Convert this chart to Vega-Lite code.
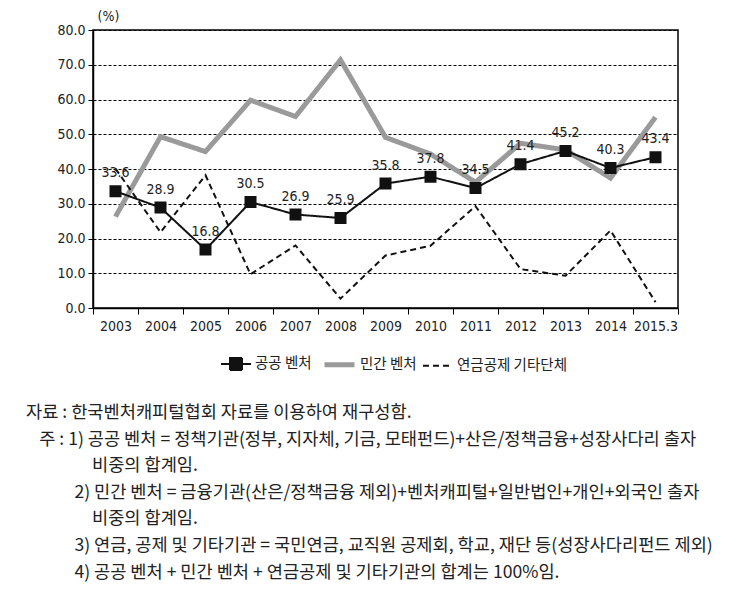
{
  "$schema": "https://vega.github.io/schema/vega-lite/v6.json",
  "width": 585,
  "height": 278,
  "autosize": "none",
  "padding": {"left": 93, "top": 30, "right": 62, "bottom": 308},
  "background": "white",
  "config": {
    "view": {"stroke": "black", "strokeWidth": 1.5},
    "font": "Liberation Sans Narrow, DejaVu Sans Condensed, sans-serif",
    "legend": {
      "title": null,
      "orient": "none",
      "direction": "horizontal",
      "legendX": 127,
      "legendY": 317,
      "labelFont": "Noto Sans CJK KR",
      "labelFontSize": 14.5,
      "labelColor": "#222",
      "symbolSize": 900,
      "labelOffset": 3,
      "columnPadding": 2
    }
  },
  "title": {
    "text": [
      "\u200b자료 : 한국벤처캐피털협회 자료를 이용하여 재구성함.",
      "\u200b\u2002\u2005주 : 1) 공공 벤처 = 정책기관(정부, 지자체, 기금, 모태펀드)+산은/정책금융+성장사다리 출자",
      "\u200b\u3000\u3000\u3000\u2002\u2005비중의 합계임.",
      "\u200b\u3000\u3000\u2002\u20052) 민간 벤처 = 금융기관(산은/정책금융 제외)+벤처캐피털+일반법인+개인+외국인 출자",
      "\u200b\u3000\u3000\u3000\u2002\u2005비중의 합계임.",
      "\u200b\u3000\u3000\u2002\u20053) 연금, 공제 및 기타기관 = 국민연금, 교직원 공제회, 학교, 재단 등(성장사다리펀드 제외)",
      "\u200b\u3000\u3000\u2002\u20054) 공공 벤처 + 민간 벤처 + 연금공제 및 기타기관의 합계는 100%임."
    ],
    "orient": "bottom",
    "anchor": "start",
    "frame": "group",
    "dx": -67,
    "offset": 29,
    "font": "Noto Sans CJK KR",
    "fontSize": 17.6,
    "fontWeight": "normal",
    "color": "#222",
    "lineHeight": 26.6
  },
  "data": {
    "values": [
      {"year": "2003", "series": "공공 벤처", "value": 33.6},
      {"year": "2004", "series": "공공 벤처", "value": 28.9},
      {"year": "2005", "series": "공공 벤처", "value": 16.8},
      {"year": "2006", "series": "공공 벤처", "value": 30.5},
      {"year": "2007", "series": "공공 벤처", "value": 26.9},
      {"year": "2008", "series": "공공 벤처", "value": 25.9},
      {"year": "2009", "series": "공공 벤처", "value": 35.8},
      {"year": "2010", "series": "공공 벤처", "value": 37.8},
      {"year": "2011", "series": "공공 벤처", "value": 34.5},
      {"year": "2012", "series": "공공 벤처", "value": 41.4},
      {"year": "2013", "series": "공공 벤처", "value": 45.2},
      {"year": "2014", "series": "공공 벤처", "value": 40.3},
      {"year": "2015.3", "series": "공공 벤처", "value": 43.4},
      {"year": "2003", "series": "민간 벤처", "value": 26.3},
      {"year": "2004", "series": "민간 벤처", "value": 49.3},
      {"year": "2005", "series": "민간 벤처", "value": 45.0},
      {"year": "2006", "series": "민간 벤처", "value": 59.8},
      {"year": "2007", "series": "민간 벤처", "value": 55.1},
      {"year": "2008", "series": "민간 벤처", "value": 71.4},
      {"year": "2009", "series": "민간 벤처", "value": 49.1},
      {"year": "2010", "series": "민간 벤처", "value": 44.3},
      {"year": "2011", "series": "민간 벤처", "value": 36.2},
      {"year": "2012", "series": "민간 벤처", "value": 47.4},
      {"year": "2013", "series": "민간 벤처", "value": 45.5},
      {"year": "2014", "series": "민간 벤처", "value": 37.4},
      {"year": "2015.3", "series": "민간 벤처", "value": 54.9},
      {"year": "2003", "series": "연금공제 기타단체", "value": 40.1},
      {"year": "2004", "series": "연금공제 기타단체", "value": 21.8},
      {"year": "2005", "series": "연금공제 기타단체", "value": 38.2},
      {"year": "2006", "series": "연금공제 기타단체", "value": 9.7},
      {"year": "2007", "series": "연금공제 기타단체", "value": 18.0},
      {"year": "2008", "series": "연금공제 기타단체", "value": 2.7},
      {"year": "2009", "series": "연금공제 기타단체", "value": 15.1},
      {"year": "2010", "series": "연금공제 기타단체", "value": 17.9},
      {"year": "2011", "series": "연금공제 기타단체", "value": 29.3},
      {"year": "2012", "series": "연금공제 기타단체", "value": 11.2},
      {"year": "2013", "series": "연금공제 기타단체", "value": 9.3},
      {"year": "2014", "series": "연금공제 기타단체", "value": 22.3},
      {"year": "2015.3", "series": "연금공제 기타단체", "value": 1.7}
    ]
  },
  "encoding": {
    "x": {
      "field": "year",
      "type": "ordinal",
      "sort": null,
      "bandPosition": 0.5,
      "scale": {"type": "band", "paddingInner": 0, "paddingOuter": 0},
      "axis": {
        "title": null,
        "labelAngle": 0,
        "tickBand": "extent",
        "domainColor": "black",
        "domainWidth": 1.5,
        "tickColor": "black",
        "tickSize": 6,
        "labelFontSize": 14,
        "labelColor": "#222",
        "labelPadding": 5,
        "grid": false
      }
    },
    "y": {
      "field": "value",
      "type": "quantitative",
      "scale": {"domain": [0, 80]},
      "axis": {
        "values": [0, 10, 20, 30, 40, 50, 60, 70, 80],
        "format": ".1f",
        "title": "(%)",
        "titleAngle": 0,
        "titleAlign": "left",
        "titleBaseline": "middle",
        "titleX": 4,
        "titleY": -14,
        "titleFontSize": 14,
        "titleFontWeight": "normal",
        "titleColor": "#222",
        "labelFontSize": 14,
        "labelColor": "#222",
        "labelPadding": 3,
        "domainColor": "black",
        "domainWidth": 1.5,
        "tickColor": "black",
        "tickSize": 5,
        "grid": true,
        "gridColor": "black",
        "gridDash": [3, 2],
        "gridWidth": 1
      }
    },
    "color": {
      "field": "series",
      "type": "nominal",
      "scale": {"domain": ["공공 벤처", "민간 벤처", "연금공제 기타단체"], "range": ["#111111", "#9a9a9a", "#111111"]}
    },
    "strokeDash": {
      "field": "series",
      "type": "nominal",
      "scale": {"domain": ["공공 벤처", "민간 벤처", "연금공제 기타단체"], "range": [[1, 0], [1, 0], [6, 4]]}
    },
    "strokeWidth": {
      "field": "series",
      "type": "nominal",
      "scale": {"type": "ordinal", "domain": ["공공 벤처", "민간 벤처", "연금공제 기타단체"], "range": [2, 5, 2]}
    },
    "shape": {
      "field": "series",
      "type": "nominal",
      "scale": {"domain": ["공공 벤처", "민간 벤처", "연금공제 기타단체"], "range": ["M-1,0H1M-0.4,-0.4H0.4V0.4H-0.4Z", "stroke", "stroke"]}
    }
  },
  "layer": [
    {
      "transform": [{"filter": "datum.series !== '공공 벤처'"}],
      "mark": {"type": "line", "strokeCap": "butt"}
    },
    {
      "transform": [{"filter": "datum.series === '공공 벤처'"}],
      "mark": {"type": "line", "strokeCap": "butt"}
    },
    {
      "transform": [{"filter": "datum.series === '공공 벤처'"}],
      "mark": {"type": "point", "filled": true, "size": 900, "opacity": 1},
      "encoding": {
        "strokeWidth": {"value": 0}
      }
    },
    {
      "transform": [{"filter": "datum.series === '공공 벤처'"}],
      "mark": {"type": "text", "dy": -18, "fontSize": 14},
      "encoding": {
        "text": {"field": "value", "type": "quantitative", "format": ".1f"},
        "color": {"value": "#222"},
        "strokeWidth": {"value": 0}
      }
    }
  ]
}
